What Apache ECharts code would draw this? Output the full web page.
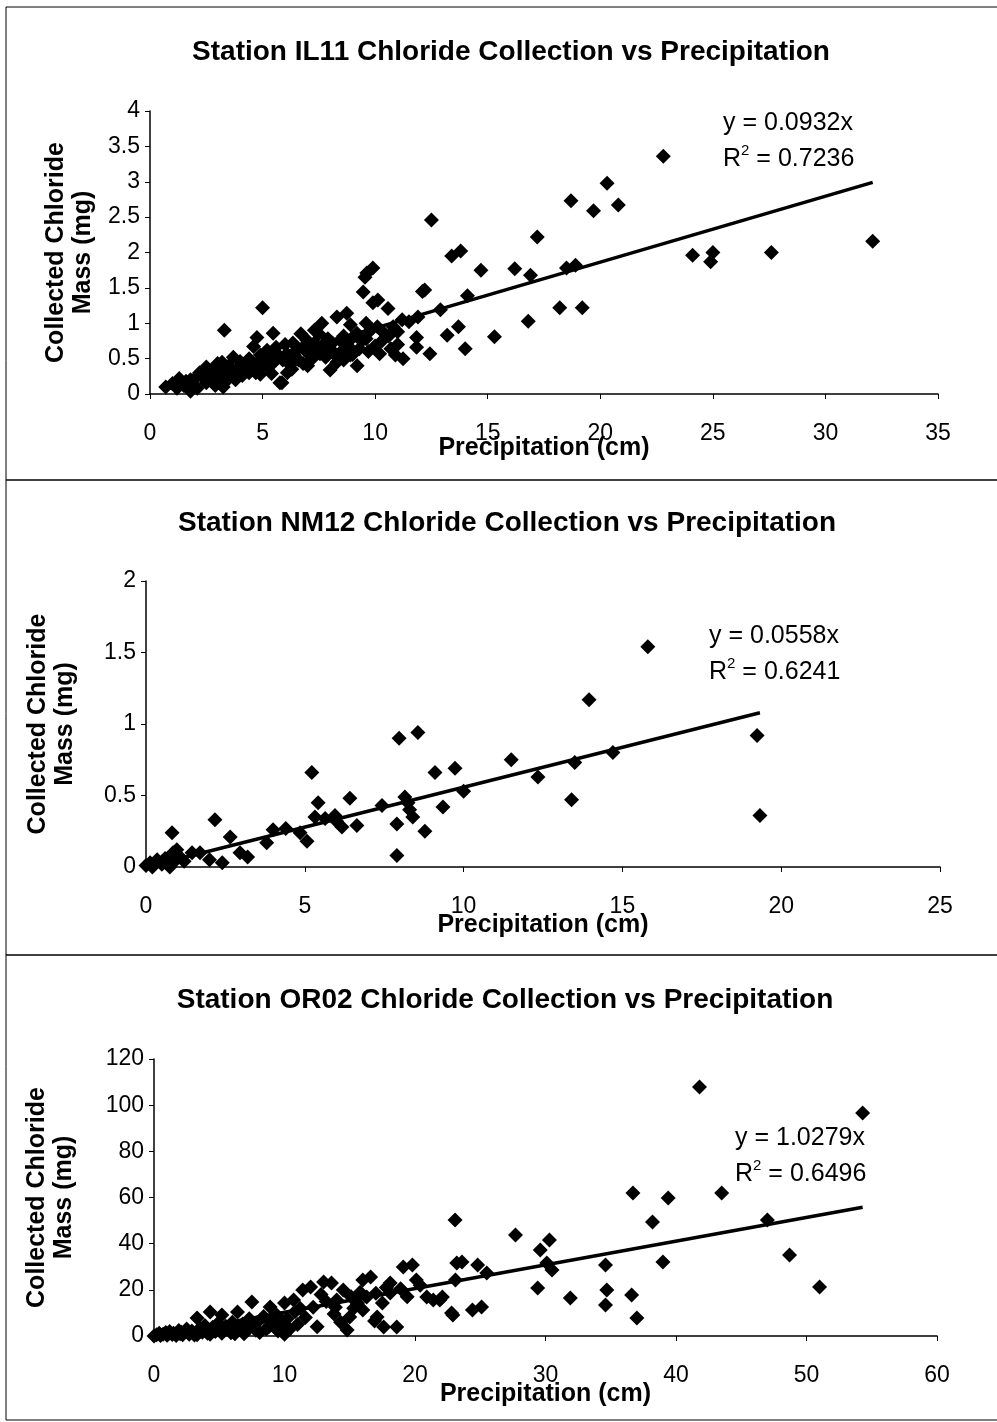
<!DOCTYPE html>
<html>
<head>
<meta charset="utf-8" />
<title>Chloride Collection vs Precipitation</title>
<script src="https://cdn.jsdelivr.net/npm/echarts@6.0.0/dist/echarts.min.js"></script>
<style>
html, body { margin: 0; padding: 0; background: #fff; }
#chart { width: 997px; height: 1422px; }
</style>
</head>
<body>
<div id="chart"></div>
<script type="text/javascript">
// ---- data: [precipitation cm, chloride mg] ----
var il11Points = [
  [0.7,0.1],[1.0,0.15],[1.2,0.08],[1.3,0.22],[1.5,0.12],[1.6,0.18],[1.8,0.2],[1.8,0.04],[1.9,0.12],[2.0,0.22],
  [2.1,0.08],[2.3,0.26],[2.35,0.24],[2.5,0.38],[2.5,0.16],[2.6,0.3],[2.7,0.22],[2.8,0.34],[2.9,0.12],[3.0,0.43],
  [3.0,0.28],[3.1,0.18],[3.25,0.1],[3.3,0.9],[3.3,0.33],[3.4,0.24],[3.5,0.4],[3.6,0.3],[3.7,0.52],[3.8,0.2],
  [3.9,0.36],[4.0,0.38],[4.0,0.46],[4.1,0.26],[4.2,0.32],[4.3,0.34],[4.4,0.5],[4.5,0.42],[4.6,0.67],[4.7,0.3],
  [4.75,0.43],[4.75,0.8],[4.9,0.55],[5.0,1.22],[5.0,0.38],[5.1,0.5],[5.2,0.62],[5.33,0.57],[5.4,0.29],[5.47,0.86],
  [5.5,0.45],[5.6,0.66],[5.77,0.16],[5.86,0.16],[5.9,0.48],[6.0,0.7],[6.08,0.57],[6.2,0.42],[6.3,0.35],[6.35,0.72],
  [6.4,0.55],[6.5,0.62],[6.6,0.48],[6.7,0.85],[6.8,0.43],[6.8,0.66],[6.97,0.76],[7.0,0.58],[7.0,0.4],[7.1,0.68],
  [7.2,0.5],[7.3,0.72],[7.3,0.9],[7.4,0.62],[7.55,0.57],[7.63,1.0],[7.7,0.7],[7.8,0.52],[7.9,0.78],[8.0,0.34],
  [8.0,0.64],[8.1,0.72],[8.2,0.56],[8.3,1.09],[8.3,0.45],[8.44,0.76],[8.5,0.6],[8.6,0.48],[8.74,1.14],[8.8,0.68],
  [8.9,0.98],[8.9,0.55],[9.0,0.56],[9.0,0.8],[9.19,0.86],[9.2,0.4],[9.3,0.64],[9.4,0.75],[9.47,1.44],[9.55,1.65],
  [9.6,1.0],[9.63,1.71],[9.9,1.78],[9.7,0.6],[9.8,0.9],[9.9,1.29],[10.0,0.68],[10.12,1.33],[10.2,0.57],[10.3,0.75],
  [10.4,0.86],[10.57,1.21],[10.7,0.64],[10.8,0.95],[10.9,0.55],[11.0,0.7],[11.2,1.05],[11.24,0.5],[11.5,1.02],[11.84,0.8],
  [11.84,0.66],[11.9,1.09],[12.1,1.45],[12.2,1.47],[12.43,0.57],[12.5,2.46],[12.9,1.19],[13.2,0.83],[13.4,1.95],[13.7,0.95],
  [13.8,2.02],[14.0,0.64],[14.1,1.39],[14.7,1.75],[15.3,0.81],[16.2,1.77],[16.8,1.03],[16.9,1.68],[17.2,2.22],[18.2,1.22],
  [18.5,1.78],[18.7,2.73],[18.9,1.82],[19.2,1.22],[19.7,2.59],[20.3,2.98],[20.8,2.67],[22.8,3.36],[24.1,1.96],[24.9,1.87],
  [25.0,2.0],[27.6,2.0],[32.1,2.16],
  [2.2,0.3],[3.2,0.45],[3.5,0.22],[4.4,0.3],[4.9,0.28],[5.2,0.4],[5.7,0.55],[6.1,0.3],[6.5,0.5],[7.6,0.62],
  [7.5,0.85],[8.6,0.82],[9.6,0.78],[10.1,0.95],[10.6,0.82],[11.0,0.88]
];
var nm12Points = [
  [0,0.01],[0.13,0.03],[0.2,0.0],[0.35,0.05],[0.5,0.02],[0.6,0.06],[0.75,0.0],[0.82,0.24],[0.85,0.1],[0.9,0.04],
  [0.97,0.12],[1.07,0.07],[1.2,0.04],[1.45,0.1],[1.7,0.1],[2.0,0.05],[2.17,0.33],[2.4,0.03],[2.65,0.21],[2.96,0.1],
  [3.2,0.07],[3.8,0.17],[4.0,0.26],[4.4,0.27],[4.85,0.24],[5.07,0.18],[5.22,0.66],[5.32,0.35],[5.42,0.45],[5.64,0.34],
  [5.95,0.36],[6.0,0.32],[6.17,0.28],[6.42,0.48],[6.64,0.29],[7.43,0.43],[7.9,0.3],[7.9,0.08],[7.97,0.9],[8.15,0.49],
  [8.25,0.45],[8.3,0.4],[8.4,0.35],[8.56,0.94],[8.78,0.25],[9.1,0.66],[9.35,0.42],[9.73,0.69],[10.0,0.53],[11.5,0.75],
  [12.34,0.63],[13.4,0.47],[13.5,0.73],[13.95,1.17],[14.7,0.8],[15.8,1.54],[19.24,0.92],[19.33,0.36]
];
var or02Points = [
  [0,0],[0.2,0.5],[0.4,1.2],[0.5,0.2],[0.7,0.8],[0.9,1.5],[1.0,0.3],[1.2,2.0],[1.4,0.6],[1.5,1.2],
  [1.7,0.2],[1.9,2.4],[2.0,1.0],[2.2,0.5],[2.4,1.8],[2.5,3.0],[2.7,0.8],[2.9,2.2],[3.0,1.4],[3.3,7.8],
  [3.3,0.5],[3.5,3.2],[3.7,1.6],[3.9,4.5],[4.0,2.5],[4.3,10.4],[4.3,0.8],[4.5,3.8],[4.7,2.0],[4.9,5.5],
  [5.2,9.1],[5.2,1.2],[5.5,4.2],[5.7,2.8],[6.0,6.0],[6.2,1.0],[6.4,10.4],[6.5,3.5],[6.8,5.2],[7.0,2.0],
  [7.3,7.5],[7.5,14.7],[7.6,3.8],[7.9,5.8],[8.1,1.5],[8.4,8.5],[8.6,3.0],[8.9,12.6],[9.0,6.0],[9.4,9.1],
  [9.5,2.2],[9.7,4.5],[10.0,14.3],[10.0,0.8],[10.2,7.5],[10.4,3.0],[10.7,15.6],[10.8,10.5],[11.0,5.0],[11.4,19.9],
  [11.6,8.0],[12.0,21.2],[12.2,12.5],[12.5,4.0],[13.0,23.4],[13.2,15.0],[13.6,23.0],[13.8,9.5],[14.0,15.6],[14.3,6.0],
  [14.5,19.9],[14.8,2.6],[15.0,8.2],[15.3,12.0],[15.6,14.3],[15.8,19.0],[16.0,24.3],[16.0,11.3],[16.3,16.9],[16.6,25.6],
  [16.9,6.5],[17.1,8.2],[17.5,14.3],[17.6,3.9],[17.8,21.0],[18.1,23.0],[18.1,18.6],[18.6,3.9],[19.1,29.9],[19.4,17.0],
  [19.8,30.8],[20.1,24.3],[20.4,22.0],[20.9,16.9],[21.4,15.6],[21.9,15.6],[22.1,16.9],[22.8,10.0],[22.9,9.1],[23.07,50.3],
  [23.2,31.6],[23.6,32.1],[23.1,24.3],[24.4,11.3],[24.8,30.8],[25.1,12.6],[25.5,27.3],[27.7,43.8],[29.4,20.8],[29.6,37.3],
  [30.1,31.6],[30.3,41.6],[30.5,28.6],[31.9,16.5],[34.6,30.8],[34.7,19.9],[34.6,13.4],[36.6,17.8],[37.0,7.8],[36.7,62],
  [38.2,49.4],[39.4,59.8],[39.0,32.1],[41.8,107.9],[43.5,62],[47.0,50.3],[48.7,35.1],[51.0,21.2],[54.3,96.6],
  [1.1,0.9],[2.1,1.6],[3.1,0.4],[4.1,1.2],[5.0,3.0],[5.9,1.4],[6.9,1.0],[7.8,2.5],[8.8,4.0],[9.9,2.5],
  [11.2,12.0],[12.8,18.0],[13.9,12.5],[15.1,17.0],[17.0,18.5],[18.9,20.5]
];

var stationNames = ['IL11', 'NM12', 'OR02'];
var trendSlopes = [0.0932, 0.0558, 1.0279];
var rSquared = ['0.7236', '0.6241', '0.6496'];
var xMax = [35, 25, 60];
var xInterval = [5, 5, 10];
var yMax = [4, 2, 120];
var yInterval = [0.5, 0.5, 20];

// ---- layout ----
var FONT = "'Liberation Sans', Arial, sans-serif";
var grids = [
  { left: 150, top: 111, width: 788, height: 283 },
  { left: 146, top: 581, width: 794, height: 286 },
  { left: 154, top: 1059, width: 783, height: 277 }
];
var titlePos = [[511, 38], [507, 509], [505, 986]];
var eqnPos = [[723, 111], [709, 624], [735, 1126]];
var xNameGap = [42, 46, 46];
var yNameGap = [53, 67, 76];

var allPoints = [il11Points, nm12Points, or02Points];

function trendLine(points, slope) {
  var xs = points.map(function (p) { return p[0]; });
  var lo = Math.min.apply(null, xs), hi = Math.max.apply(null, xs);
  return [[lo, slope * lo], [hi, slope * hi]];
}

var titles = [], xAxes = [], yAxes = [], series = [], graphics = [];

for (var i = 0; i < 3; i++) {
  titles.push({
    text: 'Station ' + stationNames[i] + ' Chloride Collection vs Precipitation',
    left: titlePos[i][0], top: titlePos[i][1], textAlign: 'center', padding: 0,
    textStyle: { fontFamily: FONT, fontSize: 28, fontWeight: 'bold', color: '#000' }
  });
  xAxes.push({
    type: 'value', gridIndex: i, min: 0, max: xMax[i], interval: xInterval[i],
    name: 'Precipitation (cm)', nameLocation: 'middle', nameGap: xNameGap[i],
    nameMoveOverlap: false,
    nameTextStyle: { fontFamily: FONT, fontSize: 25, fontWeight: 'bold', color: '#000' },
    axisLine: { show: true, lineStyle: { color: '#000', width: 1.5 } },
    axisTick: { show: true, length: 5, lineStyle: { color: '#000' } },
    axisLabel: { fontFamily: FONT, fontSize: 23, color: '#000', margin: 28 },
    splitLine: { show: false }
  });
  yAxes.push({
    type: 'value', gridIndex: i, min: 0, max: yMax[i], interval: yInterval[i],
    name: 'Collected Chloride\nMass (mg)', nameLocation: 'middle', nameRotate: 90, nameGap: yNameGap[i],
    nameMoveOverlap: false,
    nameTextStyle: { fontFamily: FONT, fontSize: 25, fontWeight: 'bold', color: '#000', lineHeight: 27 },
    axisLine: { show: true, lineStyle: { color: '#000', width: 1.5 } },
    axisTick: { show: true, length: 5, lineStyle: { color: '#000' } },
    axisLabel: { fontFamily: FONT, fontSize: 23, color: '#000', margin: 10 },
    splitLine: { show: false }
  });
  series.push({
    type: 'scatter', xAxisIndex: i, yAxisIndex: i,
    symbol: 'diamond', symbolSize: 15,
    itemStyle: { color: '#000', opacity: 1 },
    data: allPoints[i]
  });
  series.push({
    type: 'line', xAxisIndex: i, yAxisIndex: i,
    showSymbol: false, silent: true, z: 3,
    lineStyle: { color: '#000', width: 3.5 },
    data: trendLine(allPoints[i], trendSlopes[i])
  });
  graphics.push({
    type: 'text', left: eqnPos[i][0], top: eqnPos[i][1],
    style: {
      text: '{n|y = ' + trendSlopes[i].toFixed(4) + 'x}\n{n|R}{s|2}{n| = ' + rSquared[i] + '}',
      fontFamily: FONT, fill: '#000',
      rich: {
        n: { fontFamily: FONT, fontSize: 25, lineHeight: 36, color: '#000' },
        s: { fontFamily: FONT, fontSize: 15, lineHeight: 36, color: '#000', verticalAlign: 'top', padding: [2, 0, 0, 0] }
      }
    }
  });
}

// frame and panel separators
graphics.push({ type: 'rect', shape: { x: 6, y: 7, width: 1000, height: 1413 }, style: { fill: 'none', stroke: '#000', lineWidth: 1 }, silent: true });
graphics.push({ type: 'line', shape: { x1: 6, y1: 480, x2: 997, y2: 480 }, style: { stroke: '#000', lineWidth: 1.5 }, silent: true });
graphics.push({ type: 'line', shape: { x1: 6, y1: 955, x2: 997, y2: 955 }, style: { stroke: '#000', lineWidth: 1.5 }, silent: true });

var myChart = echarts.init(document.getElementById('chart'), null, { renderer: 'canvas' });
myChart.setOption({
  animation: false,
  backgroundColor: '#fff',
  title: titles,
  grid: grids,
  xAxis: xAxes,
  yAxis: yAxes,
  series: series,
  graphic: graphics
});
</script>
</body>
</html>
